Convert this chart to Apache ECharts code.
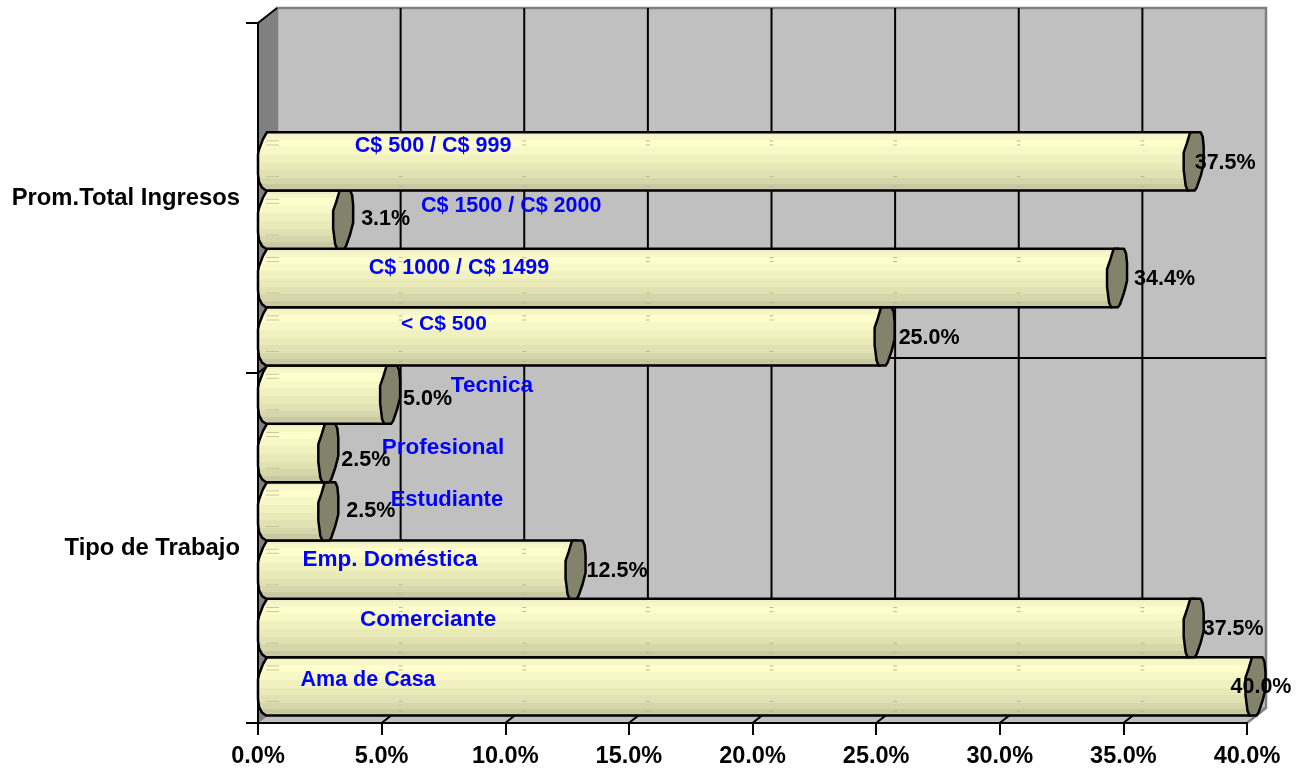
<!DOCTYPE html>
<html><head><meta charset="utf-8">
<style>html,body{margin:0;padding:0;background:#fff}#c{width:1309px;height:773px}</style>
<script src="https://cdn.jsdelivr.net/npm/echarts@6/dist/echarts.min.js"></script>
</head><body><div id="c"></div>
<script>
var groups = ["Tipo de Trabajo", "Prom.Total Ingresos"];
var categories = ["Ama de Casa","Comerciante","Emp. Doméstica","Estudiante","Profesional","Tecnica","< C$ 500","C$ 1000 / C$ 1499","C$ 1500 / C$ 2000","C$ 500 / C$ 999"];
var slots = categories.concat(["", " "]);
var values = [40.0,37.5,12.5,2.5,2.5,5.0,25.0,34.4,3.1,37.5];
var xTicks = [0,5,10,15,20,25,30,35,40];

// hand-placed label layout of the original: [x on axis, px above/below bar centre]
var nameLabelPlace = [[4.45,-6],[6.88,-8],[5.34,-10],[7.64,-11],[7.48,-5],[9.46,-9],[7.52,-12],[8.13,-10],[10.24,-14],[7.08,-15]];
var nameLabelSize = [21.5,22.5,22.5,22,22.5,22.5,21,21.5,21.5,21.5];
// px right of the bar end, px below bar centre
var valueLabelPlace = [[14,1],[48,1],[50,1],[51,0],[46,7],[46,4],[53,2],[56,1],[51,-1],[40,2]];

var DX = 19, DY = -15;
var barData = values.map(function(v,i){return [v,i];});

function stripes(){
  var cols=[[0,'#F0F0C4'],[.07,'#F6F6C8'],[.15,'#FFFFCC'],[.27,'#F8F8C6'],[.39,'#F1F1BF'],[.52,'#EAEAB9'],[.65,'#E1E1B3'],[.77,'#D6D6AB'],[.87,'#C9C9A2'],[.96,'#BBBB95']];
  var st=[];
  cols.forEach(function(c,i){
    st.push({offset:c[0],color:c[1]});
    st.push({offset:i<cols.length-1?cols[i+1][0]:1,color:c[1]});
  });
  return {type:'linear',x:0,y:0,x2:0,y2:1,colorStops:st};
}
var fill=stripes();

function renderWalls(params,api){
  var g=params.coordSys, L=g.x,T=g.y,R=g.x+g.width,B=g.y+g.height,M=T+g.height/2;
  var kids=[];
  kids.push({type:'rect',shape:{x:L+DX,y:T+DY,width:g.width,height:g.height},style:{fill:'#C0C0C0'}});
  kids.push({type:'polygon',shape:{points:[[L,T],[L+DX,T+DY],[L+DX,B+DY],[L,B]]},style:{fill:'#808080'}});
  kids.push({type:'polygon',shape:{points:[[L,B],[L+DX,B+DY],[R+DX,B+DY],[R,B]]},style:{fill:'#C0C0C0',stroke:'#808080',lineWidth:1}});
  kids.push({type:'polyline',shape:{points:[[L+DX,B+DY],[L+DX,T+DY],[R+DX,T+DY],[R+DX,B+DY],[R,B]]},style:{fill:null,stroke:'#808080',lineWidth:2.5}});
  kids.push({type:'polyline',shape:{points:[[L,T],[L+DX,T+DY]]},style:{fill:null,stroke:'#000',lineWidth:2}});
  kids.push({type:'polyline',shape:{points:[[L,M],[L+DX,M+DY],[R+DX,M+DY]]},style:{fill:null,stroke:'#000',lineWidth:2}});
  xTicks.forEach(function(t){
    var x=api.coord([t,0])[0];
    if(t===0||t===40) return;
    kids.push({type:'polyline',shape:{points:[[x,B],[x+DX,B+DY],[x+DX,T+DY]]},style:{fill:null,stroke:'#000',lineWidth:2}});
  });
  kids.push({type:'polyline',shape:{points:[[L,B],[R,B]]},style:{fill:null,stroke:'#000',lineWidth:2}});
  return {type:'group',children:kids};
}

function renderBar(params,api){
  var p=api.coord([api.value(0),api.value(1)]);
  var L=api.coord([0,0])[0];
  var h=api.size([0,1])[1];
  var x0=p[0]-0.5, t=p[1]-h/2+DY/2, b=t+h;
  function py(f){return t+f*h;}
  var body=[[L+9,t],[L+5,py(.12)],[L+1,py(.3)],[L,py(.38)],[L,py(.72)],[L+1,py(.85)],[L+4,py(.95)],[L+8,b],
            [x0+4,b],[x0+9,py(.5)],[x0+10,t]];
  var cap=[[x0+6,t],[x0+16,t],[x0+18,py(.08)],[x0+19,py(.25)],[x0+19,py(.55)],[x0+16,py(.75)],[x0+12,py(.95)],[x0+10,b],
           [x0+3,b],[x0+1,py(.92)],[x0-1,py(.65)],[x0-1,py(.35)],[x0+2,py(.2)],[x0+5,py(.03)]];
  var kids=[{type:'polygon',shape:{points:body},style:{fill:fill,stroke:'#000',lineWidth:2.5,lineJoin:'round'}}];
  // faint marks where the wall lines show through the shaded bar
  [.15,.22,.76,.93].forEach(function(f){
    kids.push({type:'line',shape:{x1:L+8,y1:py(f),x2:L+21,y2:py(f)},style:{stroke:'#C4C4A2',lineWidth:1}});
    xTicks.forEach(function(tk){
      if(tk===0) return;
      var gx=api.coord([tk,0])[0]+DX;
      if(gx<x0-2) kids.push({type:'line',shape:{x1:gx-2,y1:py(f),x2:gx+2,y2:py(f)},style:{stroke:'#B8B896',lineWidth:1}});
    });
  });
  kids.push({type:'polygon',shape:{points:cap},style:{fill:'#83836B',stroke:'#000',lineWidth:2.5,lineJoin:'round'}});
  return {type:'group',children:kids};
}

function renderLabels(params,api){
  var i=params.dataIndex, v=api.value(0), idx=api.value(1);
  var p=api.coord([v,idx]), cy=p[1]+DY/2;
  var nl=nameLabelPlace[i], vl=valueLabelPlace[i];
  var nx=api.coord([nl[0],idx])[0];
  return {type:'group',children:[
    {type:'text',style:{x:nx,y:cy+nl[1],text:categories[i],fill:'#0000FF',font:'bold '+nameLabelSize[i]+'px "Liberation Sans"',align:'center',verticalAlign:'middle'}},
    {type:'text',style:{x:p[0]+vl[0],y:cy+vl[1],text:v.toFixed(1)+'%',fill:'#000',font:'bold 21.5px "Liberation Sans"',align:'center',verticalAlign:'middle'}}
  ]};
}

var chart=echarts.init(document.getElementById('c'),null,{renderer:'canvas'});
chart.setOption({
  animation:false,
  backgroundColor:'#fff',
  grid:{left:258,top:23,width:989,height:700,containLabel:false},
  xAxis:{type:'value',min:0,max:40,interval:5,z:8,
    axisLine:{show:true,lineStyle:{color:'#000',width:2}},
    axisTick:{show:true,length:12,lineStyle:{color:'#000',width:2}},
    splitLine:{show:false},
    axisLabel:{show:true,margin:22,color:'#000',fontFamily:'Liberation Sans',fontWeight:'bold',fontSize:23.5,
      formatter:function(v){return v.toFixed(1)+'%';}}},
  yAxis:[
    {type:'category',data:groups,z:8,
      axisLine:{show:true,lineStyle:{color:'#000',width:2}},
      axisTick:{show:true,length:12,alignWithLabel:false,lineStyle:{color:'#000',width:2}},
      axisLabel:{margin:18,color:'#000',fontFamily:'Liberation Sans',fontWeight:'bold',fontSize:23.8}},
    {type:'category',data:slots,show:false}
  ],
  series:[
    {type:'custom',coordinateSystem:'cartesian2d',yAxisIndex:1,z:1,silent:true,renderItem:renderWalls,data:[[0,0]],encode:{x:0,y:1}},
    {type:'custom',coordinateSystem:'cartesian2d',yAxisIndex:1,z:2,silent:true,renderItem:renderBar,data:barData,encode:{x:0,y:1}},
    {type:'custom',coordinateSystem:'cartesian2d',yAxisIndex:1,z:10,silent:true,renderItem:renderLabels,data:barData,encode:{x:0,y:1}}
  ]
});
</script></body></html>
